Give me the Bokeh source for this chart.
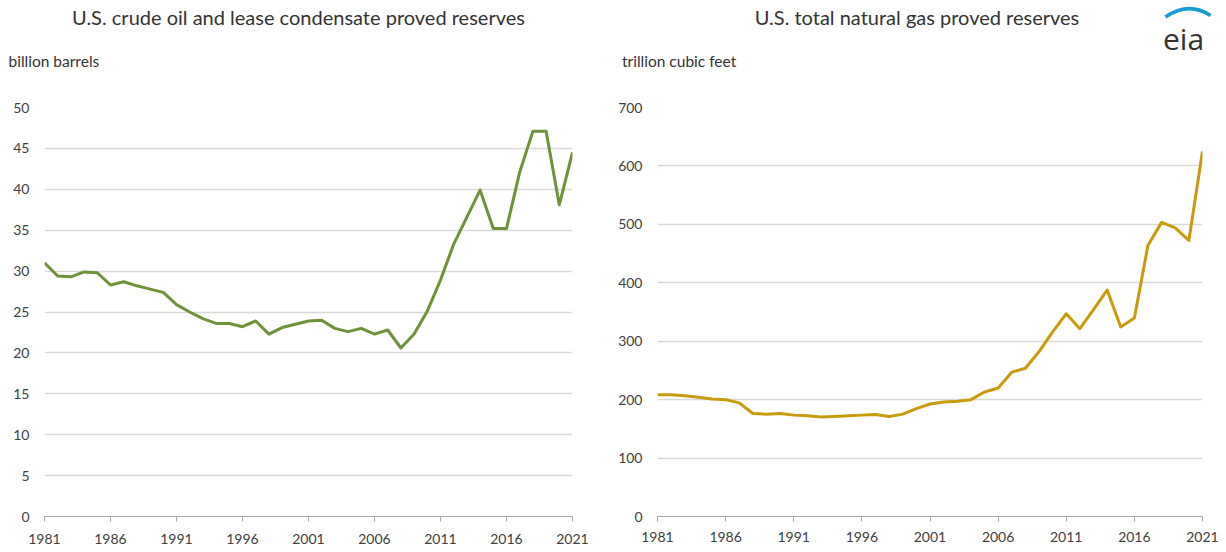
from bokeh.plotting import figure
from bokeh.layouts import row, column
from bokeh.models import Range1d, FixedTicker, ColumnDataSource
from bokeh.core.properties import value
from bokeh.embed import file_html
from bokeh.resources import INLINE

years = list(range(1981, 2022))
oil_reserves = [31.0, 29.4, 29.3, 29.9, 29.8, 28.3, 28.7, 28.2, 27.8, 27.4,
                25.9, 25.0, 24.2, 23.6, 23.6, 23.2, 23.9, 22.3, 23.1, 23.5,
                23.9, 24.0, 23.0, 22.6, 23.0, 22.3, 22.8, 20.6, 22.3, 25.1,
                28.9, 33.3, 36.6, 39.9, 35.2, 35.2, 42.1, 47.1, 47.1, 38.1,
                44.5]
gas_reserves = [208.5, 208.5, 206.8, 204.0, 201.0, 200.0, 194.4, 176.3, 175.2, 176.3,
                173.5, 172.4, 170.2, 171.2, 172.4, 173.5, 174.6, 171.2, 175.2, 184.7,
                192.5, 196.0, 197.3, 200.0, 213.0, 220.0, 247.0, 253.7, 282.0, 316.0,
                347.0, 321.5, 354.0, 387.6, 324.4, 339.7, 464.4, 503.4, 494.0, 472.4,
                625.0]
x_ticks = [1981, 1986, 1991, 1996, 2001, 2006, 2011, 2016, 2021]
oil_ticks = [0, 5, 10, 15, 20, 25, 30, 35, 40, 45, 50]
gas_ticks = [0, 100, 200, 300, 400, 500, 600, 700]

oil_title = "U.S. crude oil and lease condensate proved reserves"
gas_title = "U.S. total natural gas proved reserves"
oil_unit = "billion barrels"
gas_unit = "trillion cubic feet"

FONT = "Lato"
TOTAL_W = 1226
COL_W = 613
HEAD_H = 78
TOTAL_H = 552

# ---- header band (titles, unit labels, logo) ----
h = figure(width=TOTAL_W, height=HEAD_H, x_range=Range1d(0, TOTAL_W),
           y_range=Range1d(HEAD_H, 0), output_backend="svg",
           toolbar_location=None, min_border=0,
           x_axis_location=None, y_axis_location=None)
h.grid.visible = False
h.outline_line_color = None
h.text(x=[298, 916.5], y=[16, 16], text=[oil_title, gas_title],
       text_font=value(FONT), text_font_size="20px", text_color="#333333",
       text_align="center", text_baseline="middle")
h.text(x=[8, 621.5], y=[60, 60], text=[oil_unit, gas_unit],
       text_font=value(FONT), text_font_size="15.5px", text_color="#333333",
       text_align="left", text_baseline="middle")
h.quadratic(x0=[1165], y0=[16.5], x1=[1210], y1=[15], cx=[1188], cy=[0.5],
            line_color="#1a9ad6", line_width=3.5)
h.text(x=[1162.5], y=[37.5], text=["eia"], text_font=value("Open Sans"),
       text_font_size="30px", text_color="#333333",
       text_align="left", text_baseline="alphabetic")


def chart(vals, ymax, yticks, color, left, right, bottom, xstand):
    src = ColumnDataSource(dict(year=years, v=vals))
    p = figure(width=COL_W, height=TOTAL_H - HEAD_H,
               x_range=Range1d(1981, 2021), y_range=Range1d(0, ymax),
               output_backend="svg", toolbar_location=None,
               min_border_left=left, min_border_right=right,
               min_border_top=29, min_border_bottom=bottom)
    p.outline_line_color = None
    p.line("year", "v", source=src, line_color=color, line_width=3,
           line_join="round")
    p.xaxis.ticker = FixedTicker(ticks=x_ticks)
    p.yaxis.ticker = FixedTicker(ticks=yticks)
    p.xgrid.visible = False
    p.ygrid.grid_line_color = "#d9d9d9"
    p.ygrid.grid_line_width = 1.5
    p.yaxis.axis_line_color = None
    p.yaxis.major_tick_line_color = None
    p.yaxis.minor_tick_line_color = None
    p.yaxis.major_tick_out = 0
    p.yaxis.major_tick_in = 0
    p.yaxis.minor_tick_out = 0
    p.yaxis.major_label_standoff = 15
    p.xaxis.axis_line_color = "#a6a6a6"
    p.xaxis.axis_line_width = 1
    p.xaxis.major_tick_line_color = "#a6a6a6"
    p.xaxis.major_tick_out = 5
    p.xaxis.major_tick_in = 0
    p.xaxis.minor_tick_line_color = None
    p.xaxis.minor_tick_out = 0
    p.xaxis.major_label_standoff = xstand
    for ax in (p.xaxis, p.yaxis):
        ax.major_label_text_font = FONT
        ax.major_label_text_font_size = "14px"
        ax.major_label_text_color = "#404040"
    return p


pl = chart(oil_reserves, 50, oil_ticks, "#6f9139", 44, 41, 36, 12)
pr = chart(gas_reserves, 700, gas_ticks, "#c99a0c", 44, 24, 32, 10)

layout = column(h, row(pl, pr))
open("out.html", "w").write(file_html(layout, INLINE))
